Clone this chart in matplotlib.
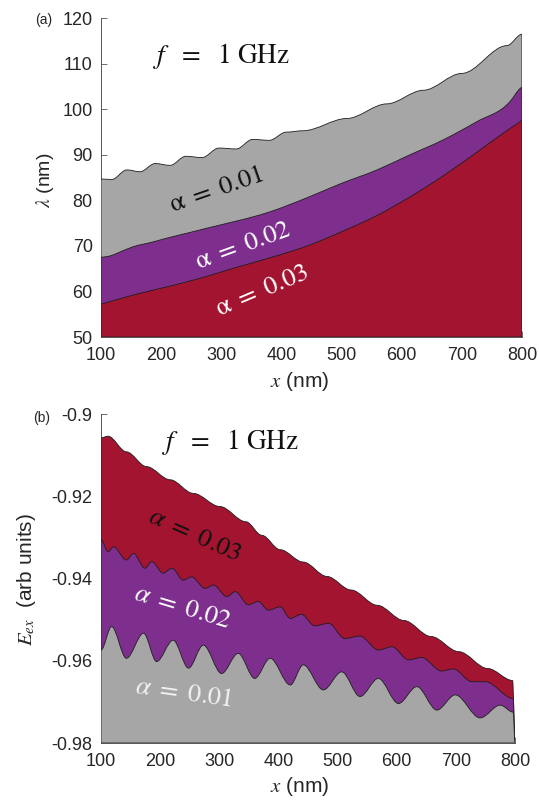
import matplotlib
matplotlib.use('Agg')
import matplotlib.pyplot as plt
from matplotlib.path import Path
from matplotlib.patches import PathPatch
import numpy as np

plt.rcParams['font.family'] = ['Liberation Sans', 'DejaVu Sans']
plt.rcParams['mathtext.fontset'] = 'stix'

# ---------------- data ----------------
x_ticks = [100, 200, 300, 400, 500, 600, 700, 800]

# panel (a): wavelength lambda (nm) vs x (nm)
top_x_a01 = [100, 118, 143, 165, 190, 215, 241, 268, 296, 325, 352, 380, 408, 436, 509, 575, 636, 700, 775, 800]
top_y_a01 = [84.7, 84.6, 86.7, 86.3, 88.1, 87.7, 89.7, 89.4, 91.5, 91.3, 93.4, 93.2, 95.0, 95.3, 98.0, 101.2, 104.2, 107.9, 114.0, 116.5]

top_x_a02 = [100, 115, 132, 153, 187, 209, 243, 276, 320, 364, 381, 441, 497, 559, 610, 669, 725, 780, 797, 800]
top_y_a02 = [67.5, 67.8, 68.7, 69.8, 70.9, 71.7, 72.8, 73.9, 75.3, 76.8, 77.5, 80.5, 83.6, 86.7, 89.8, 93.3, 97.3, 101.7, 104.6, 104.9]

top_x_a03 = [100, 153, 209, 265, 320, 381, 447, 503, 559, 614, 669, 725, 780, 797, 800]
top_y_a03 = [57.2, 59.2, 61.0, 62.9, 65.1, 67.4, 70.2, 73.3, 76.7, 80.8, 85.4, 90.6, 95.8, 97.3, 97.6]

top_yticks = [50, 60, 70, 80, 90, 100, 110, 120]

# panel (b): E_ex (arb units) vs x (nm)
bot_x_a03 = [100, 112, 143, 177, 217, 256, 301, 345, 372, 403, 442, 482, 523, 567, 612, 658, 705, 754, 796, 800]
bot_y_a03 = [-0.9058, -0.9054, -0.9092, -0.9128, -0.9160, -0.9193, -0.9225, -0.9262, -0.9295, -0.9330,
             -0.9360, -0.9395, -0.9428, -0.9465, -0.9502, -0.9541, -0.9578, -0.9619, -0.9648, -0.9800]

bot_x_a02 = [100, 112, 121, 143, 155, 174, 186, 205, 220, 239, 253, 276, 290, 313, 327, 349, 366, 383, 403,
             420, 439, 461, 485, 512, 538, 569, 592, 620, 642, 676, 696, 727, 750, 797, 800]
bot_y_a02 = [-0.9306, -0.9335, -0.9323, -0.9355, -0.9339, -0.9375, -0.9359, -0.9387, -0.9375, -0.9404,
             -0.9396, -0.9424, -0.9416, -0.9444, -0.9432, -0.9464, -0.9456, -0.9477, -0.9469, -0.9497,
             -0.9487, -0.9515, -0.9509, -0.9546, -0.9540, -0.9574, -0.9566, -0.9598, -0.9592, -0.9625,
             -0.9620, -0.9651, -0.9651, -0.9692, -0.9800]

bot_x_a01 = [100, 118, 143, 172, 194, 222, 248, 273, 304, 332, 360, 386, 420, 442, 476, 507, 538, 569,
             603, 634, 668, 699, 741, 775, 797, 800]
bot_y_a01 = [-0.9574, -0.9517, -0.9594, -0.9533, -0.9602, -0.9550, -0.9618, -0.9562, -0.9631, -0.9582,
             -0.9643, -0.9594, -0.9659, -0.9610, -0.9671, -0.9627, -0.9687, -0.9643, -0.9704, -0.9663,
             -0.9720, -0.9683, -0.9739, -0.9708, -0.9725, -0.9800]

bot_yticks = [-0.98, -0.96, -0.94, -0.92, -0.9]
bot_yticklabels = ['-0.98', '-0.96', '-0.94', '-0.92', '-0.9']

C_GRAY = '#A6A6A6'
C_PURPLE = '#7E2F8E'
C_RED = '#A2142F'
EDGE = '#1e1e1e'
AXC = '#262626'

W, H = 539, 800
fig = plt.figure(figsize=(W / 100, H / 100), dpi=100)


def fx(px):
    return px / W


def fy(py):
    return 1 - py / H


def smooth_area(ax, xs, ys, base, color, mode, zorder):
    xs = np.asarray(xs, float)
    ys = np.asarray(ys, float)
    n = len(xs)
    if mode == 'flat':
        m = np.zeros(n)
    else:
        m = np.gradient(ys, xs)
    verts = [(xs[0], base), (xs[0], ys[0])]
    codes = [Path.MOVETO, Path.LINETO]
    for i in range(n - 1):
        dx = xs[i + 1] - xs[i]
        verts += [(xs[i] + dx / 3, ys[i] + m[i] * dx / 3),
                  (xs[i + 1] - dx / 3, ys[i + 1] - m[i + 1] * dx / 3),
                  (xs[i + 1], ys[i + 1])]
        codes += [Path.CURVE4] * 3
    verts += [(xs[-1], base), (xs[0], base)]
    codes += [Path.LINETO, Path.CLOSEPOLY]
    patch = PathPatch(Path(verts, codes), facecolor=color, edgecolor=EDGE,
                      lw=0.6, zorder=zorder, transform=ax.transData)
    ax.add_patch(patch)


def style_axes(ax):
    for s in ['top', 'right']:
        ax.spines[s].set_visible(False)
    for s in ['left', 'bottom']:
        ax.spines[s].set_color('#555555')
        ax.spines[s].set_linewidth(0.7)
    ax.tick_params(direction='in', length=4, width=0.6, color='#555555',
                   labelsize=13, labelcolor=AXC)
    ax.tick_params(axis='x', pad=7)
    ax.tick_params(axis='y', pad=6)
    ax.set_xlim(100, 800)
    ax.set_xticks(x_ticks)


# ---------------- panel (a) ----------------
ax1 = fig.add_axes([fx(101), fy(337), fx(522) - fx(101), fy(18.3) - fy(337)])
style_axes(ax1)
ax1.set_ylim(50, 120)
ax1.set_yticks(top_yticks)
smooth_area(ax1, top_x_a01, top_y_a01, 50, C_GRAY, 'flat', 3)
smooth_area(ax1, top_x_a02, top_y_a02, 50, C_PURPLE, 'smooth', 3.1)
smooth_area(ax1, top_x_a03, top_y_a03, 50, C_RED, 'smooth', 3.2)

fig.text(fx(221), fy(56), r'$f\ \ =\ \ 1\ \mathrm{GHz}$', fontsize=19.5, ha='center', va='center', color='#111111')
fig.text(fx(216), fy(190), r'$\mathrm{\alpha}\ =\ 0.01$', fontsize=19, rotation=19,
         ha='center', va='center', color='#111111', rotation_mode='anchor')
fig.text(fx(243), fy(245), r'$\mathrm{\alpha}\ =\ 0.02$', fontsize=19, rotation=20,
         ha='center', va='center', color='white', rotation_mode='anchor')
fig.text(fx(262), fy(290), r'$\mathrm{\alpha}\ =\ 0.03$', fontsize=19, rotation=23,
         ha='center', va='center', color='white', rotation_mode='anchor')

fig.text(fx(45), fy(180), r'$\lambda$ (nm)', fontsize=14, rotation=90, ha='center', va='center', color=AXC)
fig.text(fx(300), fy(381), r'$x$ (nm)', fontsize=15, ha='center', va='center', color=AXC)
fig.text(fx(44), fy(20), '(a)', fontsize=10, ha='center', va='center', color=AXC)

# ---------------- panel (b) ----------------
ax2 = fig.add_axes([fx(101), fy(743), fx(515) - fx(101), fy(414) - fy(743)])
style_axes(ax2)
ax2.set_ylim(-0.98, -0.9)
ax2.set_yticks(bot_yticks)
ax2.set_yticklabels(bot_yticklabels)
smooth_area(ax2, bot_x_a03, bot_y_a03, -0.98, C_RED, 'flat', 3)
smooth_area(ax2, bot_x_a02, bot_y_a02, -0.98, C_PURPLE, 'flat', 3.1)
smooth_area(ax2, bot_x_a01, bot_y_a01, -0.98, C_GRAY, 'flat', 3.2)

fig.text(fx(230), fy(442), r'$f\ \ =\ \ 1\ \mathrm{GHz}$', fontsize=19.5, ha='center', va='center', color='#111111')
fig.text(fx(195), fy(535), r'$\alpha\ =\ \mathit{0.03}$', fontsize=19, rotation=-24,
         ha='center', va='center', color='#111111', rotation_mode='anchor')
fig.text(fx(183), fy(607), r'$\alpha\ =\ \mathit{0.02}$', fontsize=19, rotation=-17,
         ha='center', va='center', color='white', rotation_mode='anchor')
fig.text(fx(184), fy(693), r'$\alpha\ =\ \mathit{0.01}$', fontsize=19, rotation=-8,
         ha='center', va='center', color='#f2f2f2', rotation_mode='anchor')

fig.text(fx(26), fy(580), r'$E_{ex}$  (arb units)', fontsize=15, rotation=90, ha='center', va='center', color=AXC)
fig.text(fx(300), fy(786), r'$x$ (nm)', fontsize=15, ha='center', va='center', color=AXC)
fig.text(fx(42), fy(418), '(b)', fontsize=10, ha='center', va='center', color=AXC)

fig.savefig('out.png', dpi=100)
